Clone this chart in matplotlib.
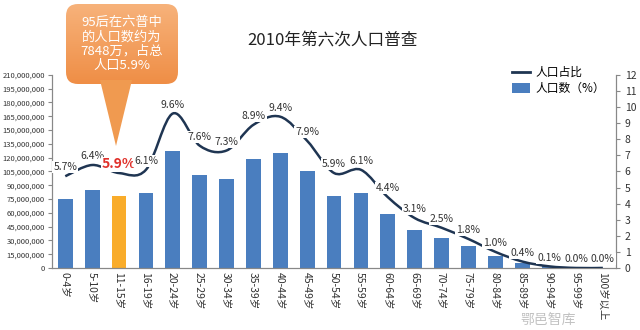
import numpy as np
import matplotlib
matplotlib.use("Agg")
import matplotlib.pyplot as plt
from matplotlib.path import Path
from matplotlib.patches import PathPatch, FancyBboxPatch, Polygon, Patch
from matplotlib.lines import Line2D
from matplotlib.ticker import FuncFormatter, MultipleLocator

plt.rcParams['font.family'] = ['Noto Sans CJK SC', 'DejaVu Sans']

ages = ['0-4岁', '5-10岁', '11-15岁', '16-19岁', '20-24岁', '25-29岁', '30-34岁',
        '35-39岁', '40-44岁', '45-49岁', '50-54岁', '55-59岁', '60-64岁', '65-69岁',
        '70-74岁', '75-79岁', '80-84岁', '85-89岁', '90-94岁', '95-99岁', '100岁以上']
population = [75.5, 84.5, 78.5, 81.0, 127.4, 101.0, 97.1, 118.0, 124.9, 105.6, 78.8,
              81.3, 58.7, 41.1, 33.0, 23.9, 13.1, 4.9, 1.6, 0.37, 0.04]  # 百万
share = [5.7, 6.4, 5.9, 6.1, 9.6, 7.6, 7.3, 8.9, 9.4, 7.9, 5.9, 6.1, 4.4, 3.1,
         2.5, 1.8, 1.0, 0.4, 0.1, 0.0, 0.0]
highlight = 2

bar_blue = '#4A7EBF'
bar_orange = '#F9AC2A'
line_col = '#1F3552'
axis_col = '#888888'

fig = plt.figure(figsize=(6.4, 3.3), dpi=100)
ax = fig.add_axes([0.081, 0.188, 0.882, 0.585])
ax2 = ax.twinx()

x = np.arange(len(ages))
colors = [bar_orange if i == highlight else bar_blue for i in x]
ax.bar(x, np.array(population) * 1e6, width=0.55, color=colors, zorder=2)
ax.set_xlim(-0.5, len(ages) - 0.5)
ax.set_ylim(0, 210e6)
ax.yaxis.set_major_locator(MultipleLocator(15e6))
ax.yaxis.set_major_formatter(FuncFormatter(lambda v, p: f'{int(v):,}'))
ax.tick_params(axis='y', labelsize=5.5, length=3, color=axis_col, labelcolor='#333333', pad=2)
ax.set_xticks(x)
ax.set_xticklabels(ages, rotation=-90, fontsize=7.5, color='#333333')
ax.tick_params(axis='x', length=0, pad=3)

ax2.set_ylim(0, 12)
ax2.yaxis.set_major_locator(MultipleLocator(1))
ax2.tick_params(axis='y', labelsize=7.5, length=3, color=axis_col, labelcolor='#333333', pad=3)

for a in (ax, ax2):
    a.spines['top'].set_visible(False)
    for s in ('left', 'right', 'bottom'):
        a.spines[s].set_color(axis_col)
        a.spines[s].set_linewidth(0.8)

# smoothed line (Bezier through the data points, Excel style)
pts = np.column_stack([x, share]).astype(float)
verts = [tuple(pts[0])]
codes = [Path.MOVETO]
n = len(pts)
for i in range(n - 1):
    p0 = pts[max(i - 1, 0)]
    p1 = pts[i]
    p2 = pts[i + 1]
    p3 = pts[min(i + 2, n - 1)]
    c1 = p1 + (p2 - p0) / 6.0
    c2 = p2 - (p3 - p1) / 6.0
    verts += [tuple(c1), tuple(c2), tuple(p2)]
    codes += [Path.CURVE4] * 3
ax2.add_patch(PathPatch(Path(verts, codes), fill=False, edgecolor=line_col,
                        lw=1.8, zorder=3))

for i, v in enumerate(share):
    if i == highlight:
        ax2.text(i, v + 0.55, f'{v:.1f}%', ha='center', va='center', fontsize=10,
                 fontweight='bold', color='#E0312B', zorder=4,
                 bbox=dict(boxstyle='square,pad=0.05', fc='white', ec='none'))
    else:
        ax2.text(i, v + 0.55, f'{v:.1f}%', ha='center', va='center', fontsize=7.5,
                 color='#333333', zorder=4,
                 bbox=dict(boxstyle='square,pad=0.1', fc='white', ec='none'))

handles = [Line2D([0], [0], color=line_col, lw=2),
           Patch(facecolor=bar_blue)]
fig.legend(handles, ['人口占比', '人口数（%）'], loc='upper right',
           bbox_to_anchor=(0.945, 0.80), frameon=False, fontsize=8.5,
           handlelength=1.6, handleheight=0.9, labelspacing=0.25,
           borderpad=0, borderaxespad=0, handletextpad=0.4)

fig.text(0.52, 0.875, '2010年第六次人口普查', ha='center', va='center',
         fontsize=12, color='#222222')

# callout bubble
ov = fig.add_axes([0, 0, 1, 1], zorder=10)
ov.set_xlim(0, 640)
ov.set_ylim(330, 0)
ov.axis('off')
ov.patch.set_alpha(0)
ov.add_patch(Polygon([[100, 80], [132, 80], [116, 146]], closed=True,
                     fc='#F09A50', ec='none'))
box = FancyBboxPatch((66, 4), 112, 80, boxstyle='round,pad=0,rounding_size=12',
                     fc='none', ec='none')
ov.add_patch(box)
grad = np.linspace(0, 1, 100).reshape(-1, 1)
cmap = matplotlib.colors.LinearSegmentedColormap.from_list('o', ['#F7B27A', '#EF8E46'])
im = ov.imshow(grad, cmap=cmap, extent=(66, 178, 84, 4), aspect='auto')
im.set_clip_path(box)
ov.text(122, 44, '95后在六普中\n的人口数约为\n7848万，占总\n人口5.9%', ha='center',
        va='center', fontsize=9.5, color='white', linespacing=1.15)
ov.set_xlim(0, 640)
ov.set_ylim(330, 0)

fig.text(0.90, 0.03, '鄂邑智库', ha='right', va='center', fontsize=10,
         color='#999999', alpha=0.6)

fig.savefig('out.png', dpi=100, facecolor='white')
